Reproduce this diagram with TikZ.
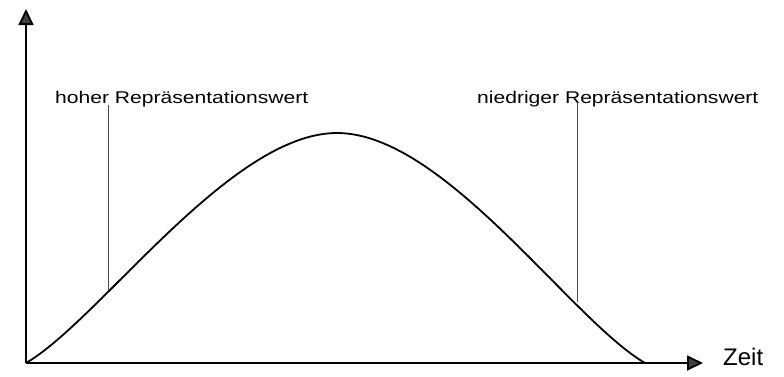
\documentclass[tikz,border=0pt]{standalone}
\usepackage{fontspec}
\setmainfont{Liberation Sans}
\newfontfamily\wertfont[FakeStretch=1.24]{Liberation Sans}
\usetikzlibrary{arrows.meta}

\begin{document}
\begin{tikzpicture}[x=1pt,y=-1pt,
  achse/.style={line width=1.8pt,-{Triangle[length=16pt,width=15pt,fill=black!75]}},
  kurve/.style={line width=1.8pt},
  fahne/.style={line width=0.9pt,black!70},
  wert/.style={anchor=base west,inner sep=0pt,font=\wertfont\fontsize{17}{20}\selectfont},
  zeitlabel/.style={anchor=base west,inner sep=0pt,font=\fontsize{24}{28}\selectfont}]
\useasboundingbox (0,0) rectangle (784,376);
\coordinate (ursprung) at (26,363);
\coordinate (yspitze)  at (26,9);
\coordinate (xspitze)  at (703,363);
\coordinate (gipfel)   at (337,133);
\coordinate (ende)     at (645,363);
\coordinate (hochfuss) at (108,290);
\coordinate (tieffuss) at (577,302);
\node[wert]      (hoch) at (55,103)  {hoher Repräsentationswert};
\node[wert]      (tief) at (477,103) {niedriger Repräsentationswert};
\node[zeitlabel] (zeit) at (723,365) {Zeit};
\coordinate (hochkopf) at (108,105);
\coordinate (tiefkopf) at (577,102);
% Achsen
\draw[achse] (ursprung) -- (yspitze);
\draw[achse] (ursprung) -- (xspitze);
% Kurve
\draw[kurve] (ursprung) .. controls (100,320) and (230,133) .. (gipfel)
             .. controls (444,133) and (571,320) .. (ende);
% Hinweislinien
\draw[fahne] (hochkopf) -- (hochfuss);
\draw[fahne] (tiefkopf) -- (tieffuss);
\end{tikzpicture}
\end{document}
